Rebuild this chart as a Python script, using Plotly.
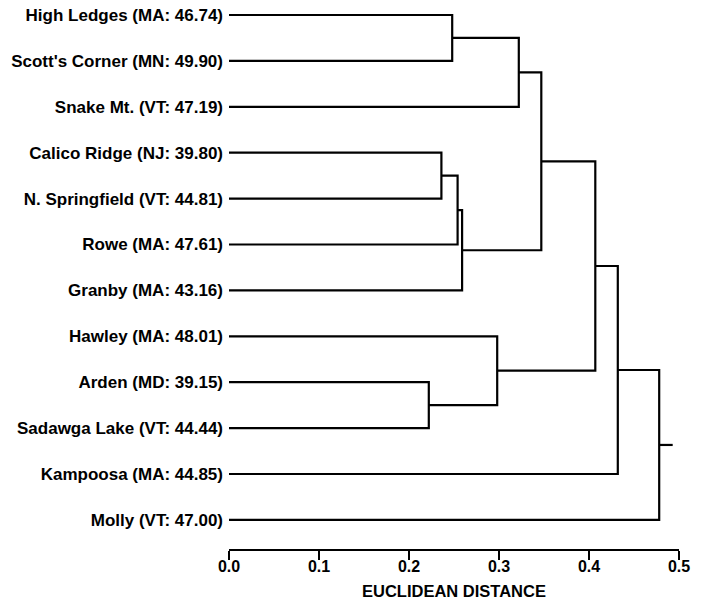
import plotly.graph_objects as go

leaf_labels = [
    "High Ledges (MA: 46.74)",
    "Scott's Corner (MN: 49.90)",
    "Snake Mt. (VT: 47.19)",
    "Calico Ridge (NJ: 39.80)",
    "N. Springfield (VT: 44.81)",
    "Rowe (MA: 47.61)",
    "Granby (MA: 43.16)",
    "Hawley (MA: 48.01)",
    "Arden (MD: 39.15)",
    "Sadawga Lake (VT: 44.44)",
    "Kampoosa (MA: 44.85)",
    "Molly (VT: 47.00)",
]
# merges: (child_a, child_b, distance); new node ids start at len(leaf_labels)
merge_a = [0, 12, 3, 14, 15, 13, 8, 7, 17, 20, 21]
merge_b = [1, 2, 4, 5, 6, 16, 9, 18, 19, 10, 11]
merge_h = [0.248, 0.322, 0.236, 0.254, 0.259, 0.347, 0.222, 0.298, 0.407, 0.432, 0.478]
root_tail = 0.493

x_ticks = [0.0, 0.1, 0.2, 0.3, 0.4, 0.5]
x_ticktext = ["0.0", "0.1", "0.2", "0.3", "0.4", "0.5"]
x_title = "EUCLIDEAN DISTANCE"

n = len(leaf_labels)
pos_y = {i: float(i) for i in range(n)}
pos_x = {i: 0.0 for i in range(n)}

xs, ys = [], []
for k, (a, b, h) in enumerate(zip(merge_a, merge_b, merge_h)):
    node = n + k
    xs += [pos_x[a], h, h, pos_x[b], None]
    ys += [pos_y[a], pos_y[a], pos_y[b], pos_y[b], None]
    pos_x[node] = h
    pos_y[node] = (pos_y[a] + pos_y[b]) / 2.0

root = n + len(merge_h) - 1
xs += [pos_x[root], root_tail]
ys += [pos_y[root], pos_y[root]]

fig = go.Figure()
fig.add_trace(go.Scatter(x=xs, y=ys, mode="lines",
                         line=dict(color="#000000", width=2.2),
                         hoverinfo="skip", showlegend=False))

font_family = "Liberation Sans, Arial, sans-serif"
fig.update_layout(
    width=701, height=603,
    margin=dict(l=229, r=22, t=2, b=54),
    paper_bgcolor="white", plot_bgcolor="white",
    font=dict(family=font_family, color="#000000", size=16, weight="bold"),
    xaxis=dict(
        range=[0, 0.5], tickvals=x_ticks, ticktext=x_ticktext, automargin=False,
        showgrid=False, zeroline=False, showline=True, linecolor="#000000", linewidth=2,
        ticks="outside", ticklen=2, tickwidth=2, tickcolor="#000000",
        minor=dict(tickvals=x_ticks, ticks="outside", ticklen=9, tickwidth=2,
                   tickcolor="#000000", showgrid=False),
        tickfont=dict(family=font_family, size=16, weight="bold"),
    ),
    yaxis=dict(
        range=[11.634, -0.283], tickvals=list(range(n)), ticktext=leaf_labels,
        automargin=False,
        showgrid=False, zeroline=False, showline=False, ticks="",
        ticklabelstandoff=5,
        tickfont=dict(family=font_family, size=17, weight="bold"),
    ),
    annotations=[dict(text=x_title, xref="paper", yref="paper", x=0.5, y=0,
                      xanchor="center", yanchor="top", yshift=-31, showarrow=False,
                      font=dict(family=font_family, size=16.5, weight="bold", color="#000000"))],
)

fig.write_html("out.html", config={"displayModeBar": False},
               post_script="document.body.style.margin='0';")
